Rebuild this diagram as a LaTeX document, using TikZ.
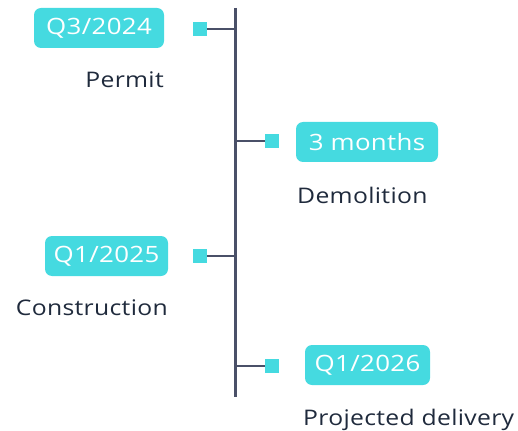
\documentclass[tikz,border=0pt]{standalone}
\usepackage{fontspec}
\setmainfont{Open Sans}[FakeStretch=1.15,LetterSpace=1.5]
\definecolor{badge}{HTML}{45DAE0}
\definecolor{axis}{HTML}{4A5068}
\definecolor{lbl}{HTML}{1F2A3C}
\begin{document}
\begin{tikzpicture}[x=1pt,y=-1pt,
  badgebox/.style={fill=badge,text=white,rounded corners=7pt,inner sep=0pt,font=\fontsize{22.5}{24}\selectfont},
  marker/.style={fill=badge,minimum size=13.5pt,inner sep=0pt},
  lbltext/.style={text=lbl,inner sep=0pt,font=\fontsize{21.5}{24}\selectfont},
  axisline/.style={draw=axis,line width=3pt},
  tickline/.style={draw=axis,line width=2pt}]
\useasboundingbox (0,0) rectangle (518,430);
\coordinate (top) at (235,8);
\coordinate (bot) at (235,397);
\draw[axisline] (top) -- (bot);
% item 1
\node[badgebox,minimum width=130pt,minimum height=40pt] (b1) at (99,28) {Q3/2024};
\node[marker] (s1) at (200,29) {};
\node[lbltext,anchor=base east] (l1) at (164,88) {Permit};
\draw[tickline] (s1.east) -- (s1.east -| top);
% item 2
\node[badgebox,minimum width=142pt,minimum height=40pt] (b2) at (367,142) {3 months};
\node[marker] (s2) at (272,141) {};
\node[lbltext,anchor=base west] (l2) at (297,203) {Demolition};
\draw[tickline] (s2.west) -- (s2.west -| top);
% item 3
\node[badgebox,minimum width=123pt,minimum height=40pt] (b3) at (106.5,256) {Q1/2025};
\node[marker] (s3) at (200,256) {};
\node[lbltext,anchor=base east] (l3) at (168,315) {Construction};
\draw[tickline] (s3.east) -- (s3.east -| top);
% item 4
\node[badgebox,minimum width=125pt,minimum height=40pt] (b4) at (367.5,365) {Q1/2026};
\node[marker] (s4) at (272,366) {};
\node[lbltext,anchor=base west] (l4) at (303,425) {Projected delivery};
\draw[tickline] (s4.west) -- (s4.west -| top);
\end{tikzpicture}
\end{document}
